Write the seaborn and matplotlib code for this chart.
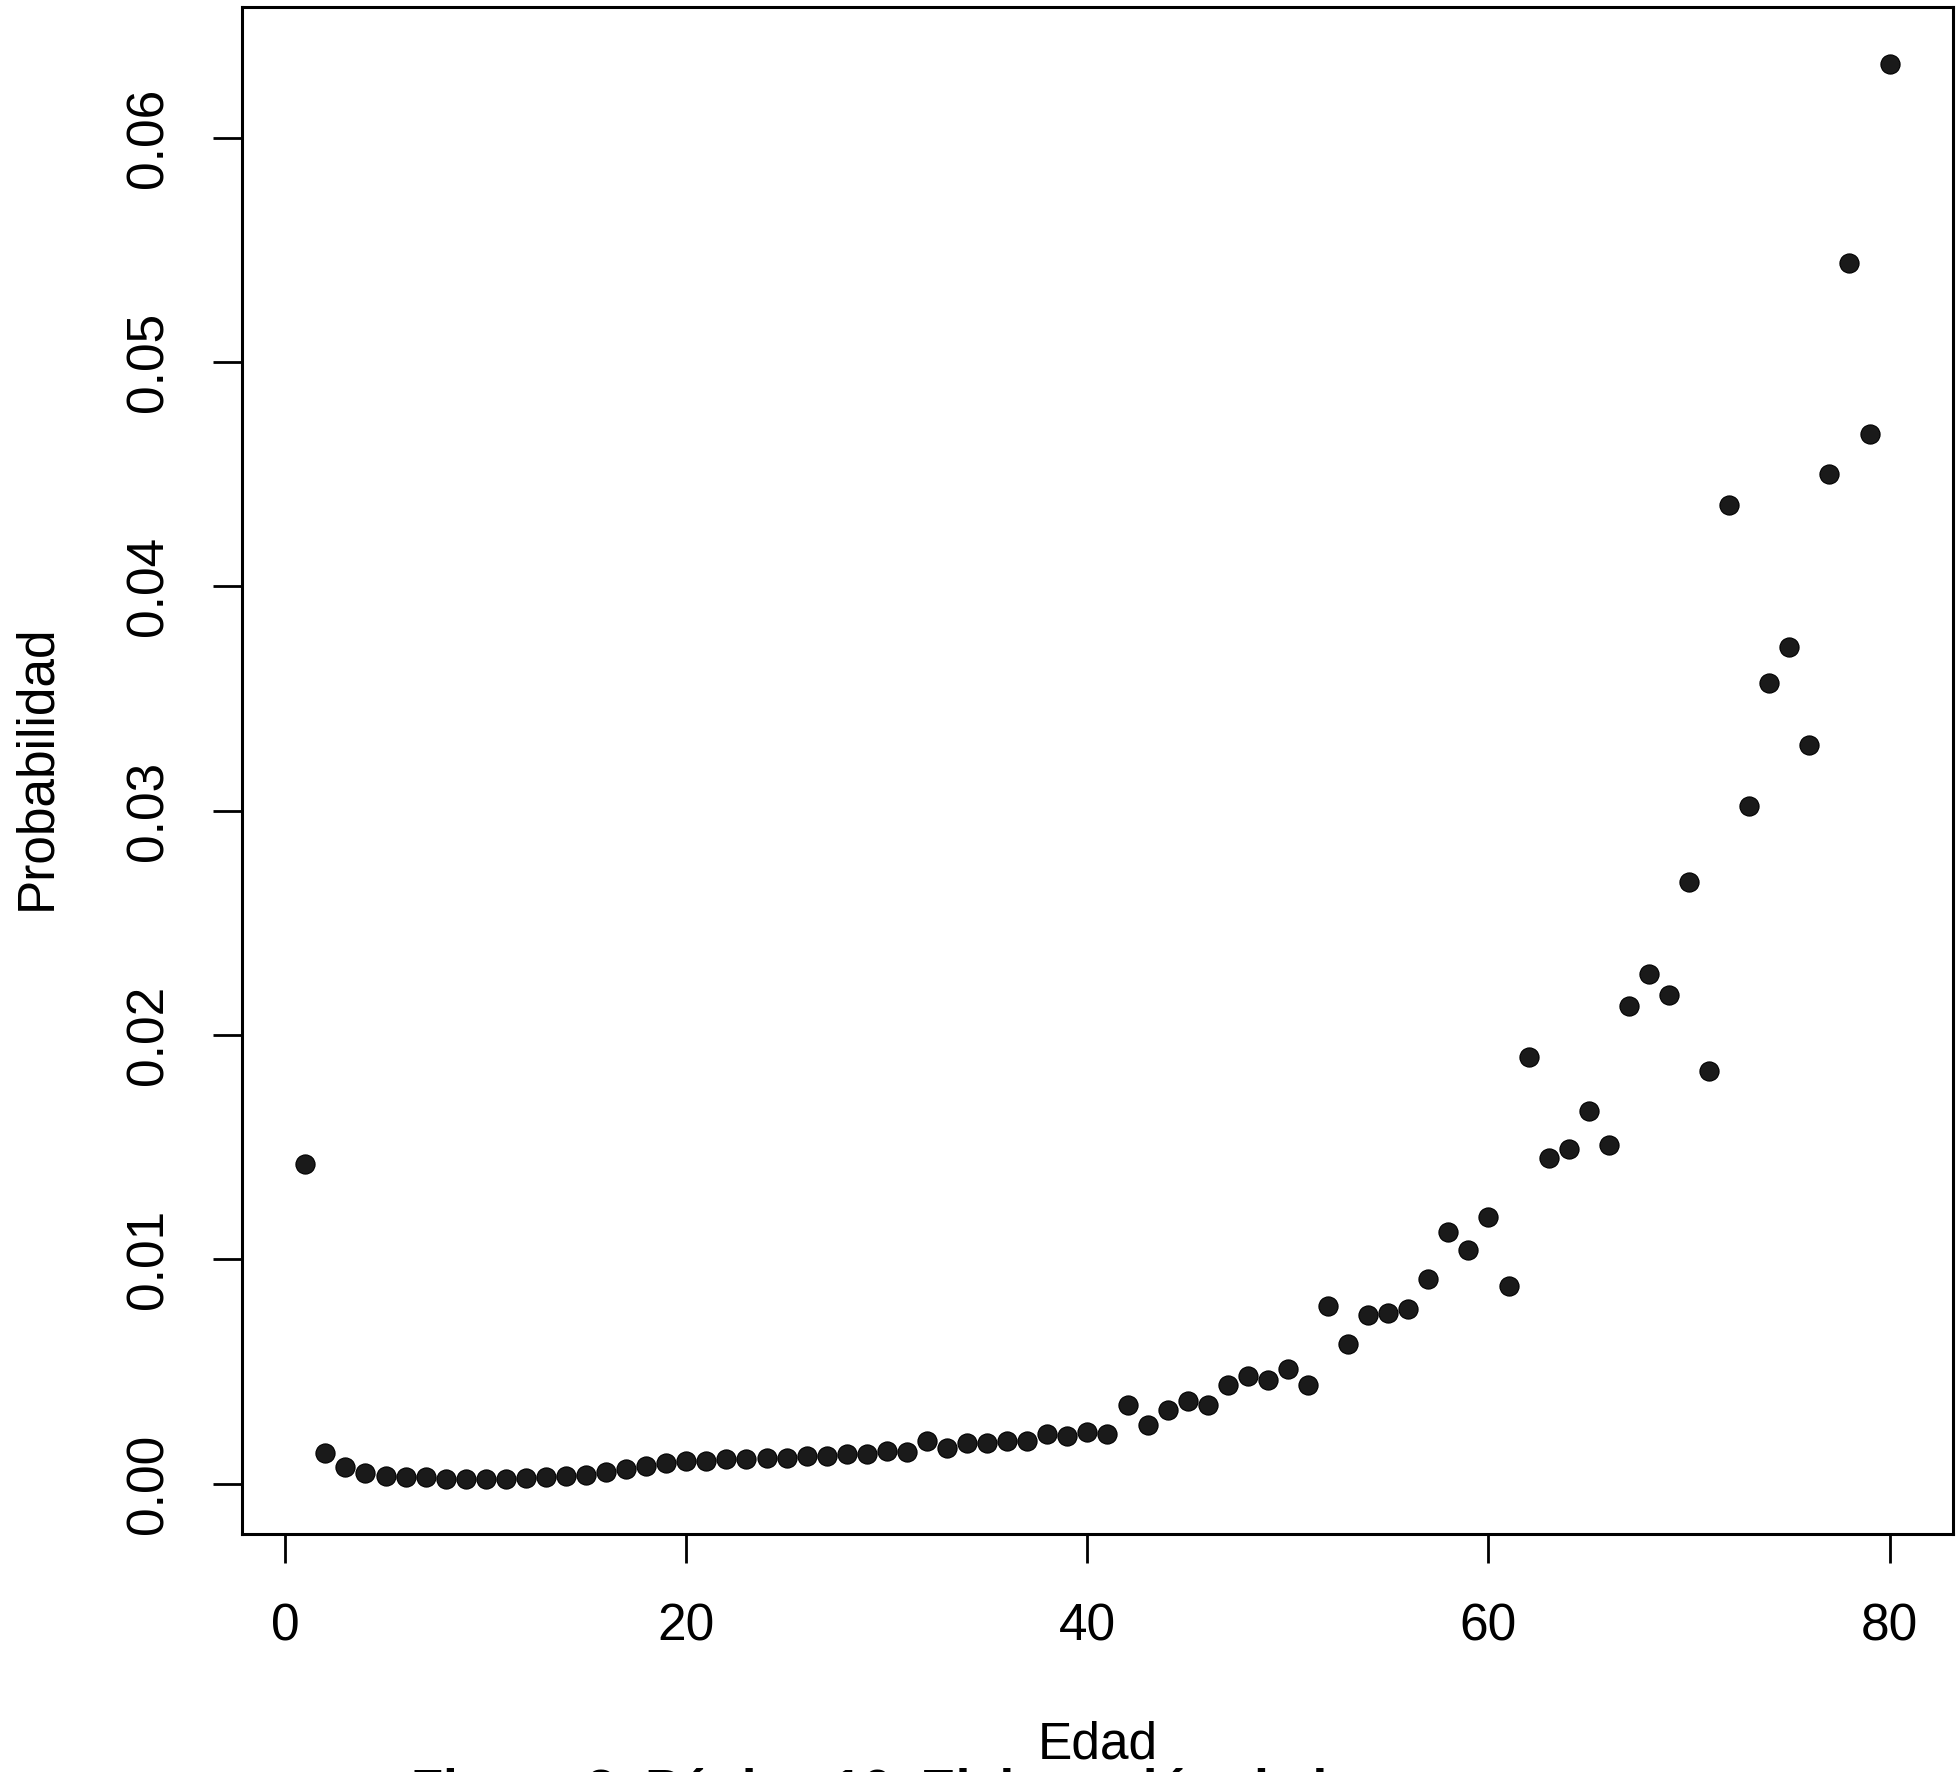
import numpy as np
import pandas as pd
import matplotlib
matplotlib.use("Agg")
import matplotlib.pyplot as plt
import seaborn as sns

# Edad (1..80) y probabilidad
edad = list(range(1, 81))
probabilidad = [
    0.01425, 0.00134, 0.00072, 0.00045, 0.00033, 0.00028, 0.00028, 0.00022, 0.00022, 0.00022,
    0.00022, 0.00025, 0.00028, 0.00033, 0.00040, 0.00050, 0.00067, 0.00080, 0.00090, 0.00100,
    0.00100, 0.00110, 0.00110, 0.00115, 0.00115, 0.00125, 0.00125, 0.00130, 0.00130, 0.00145,
    0.00140, 0.00190, 0.00160, 0.00180, 0.00180, 0.00190, 0.00190, 0.00220, 0.00210, 0.00230,
    0.00220, 0.00350, 0.00260, 0.00330, 0.00370, 0.00350, 0.00440, 0.00480, 0.00460, 0.00510,
    0.00440, 0.00790, 0.00620, 0.00750, 0.00760, 0.00780, 0.00910, 0.01120, 0.01040, 0.01190,
    0.00880, 0.01900, 0.01450, 0.01490, 0.01660, 0.01510, 0.02130, 0.02270, 0.02180, 0.02680,
    0.01840, 0.04360, 0.03020, 0.03570, 0.03730, 0.03290, 0.04500, 0.05440, 0.04680, 0.06330,
]
xticks = [0, 20, 40, 60, 80]
yticks = [0.00, 0.01, 0.02, 0.03, 0.04, 0.05, 0.06]

df = pd.DataFrame({"Edad": edad, "Probabilidad": probabilidad})

sns.set_style("white")
plt.rcParams["font.family"] = ["Liberation Sans", "DejaVu Sans"]
plt.rcParams["text.color"] = "black"
plt.rcParams["axes.labelcolor"] = "black"
plt.rcParams["xtick.color"] = "black"
plt.rcParams["ytick.color"] = "black"

fig = plt.figure(figsize=(19.59, 17.72), dpi=100)
ax = fig.add_axes([0.1235, 0.1343, 0.8734, 0.8615])

sns.scatterplot(data=df, x="Edad", y="Probabilidad", ax=ax, s=190,
                color="#1a1a1a", edgecolor="#000000", linewidth=0.8, zorder=3)

ax.set_xlim(-2.16, 83.16)
ax.set_ylim(-0.00225, 0.0658)
ax.set_xticks(xticks)
ax.set_xticklabels([str(t) for t in xticks])
ax.set_yticks(yticks)
ax.set_yticklabels([f"{t:.2f}" for t in yticks], rotation=90, va="center")

for sp in ax.spines.values():
    sp.set_visible(True)
    sp.set_color("black")
    sp.set_linewidth(2.2)

ax.tick_params(axis="both", direction="out", length=21, width=2.0, color="black",
               labelcolor="black", labelsize=37, pad=28, left=True, bottom=True)

ax.set_xlabel("Edad", fontsize=37, color="black")
ax.set_ylabel("Probabilidad", fontsize=37, color="black")
ax.xaxis.set_label_coords(0.5, -0.138)
ax.yaxis.set_label_coords(-0.1198, 0.502)
ax.xaxis.label.set_va("center")
ax.yaxis.label.set_va("center")

# pie de figura, cortado en el borde inferior
fig.text(0.507, -0.0195, "Figura 3. Página 16. Elaboración de la muestra",
         ha="center", va="baseline", fontsize=38, fontweight="bold", color="black")

fig.savefig("out.png", dpi=100)
